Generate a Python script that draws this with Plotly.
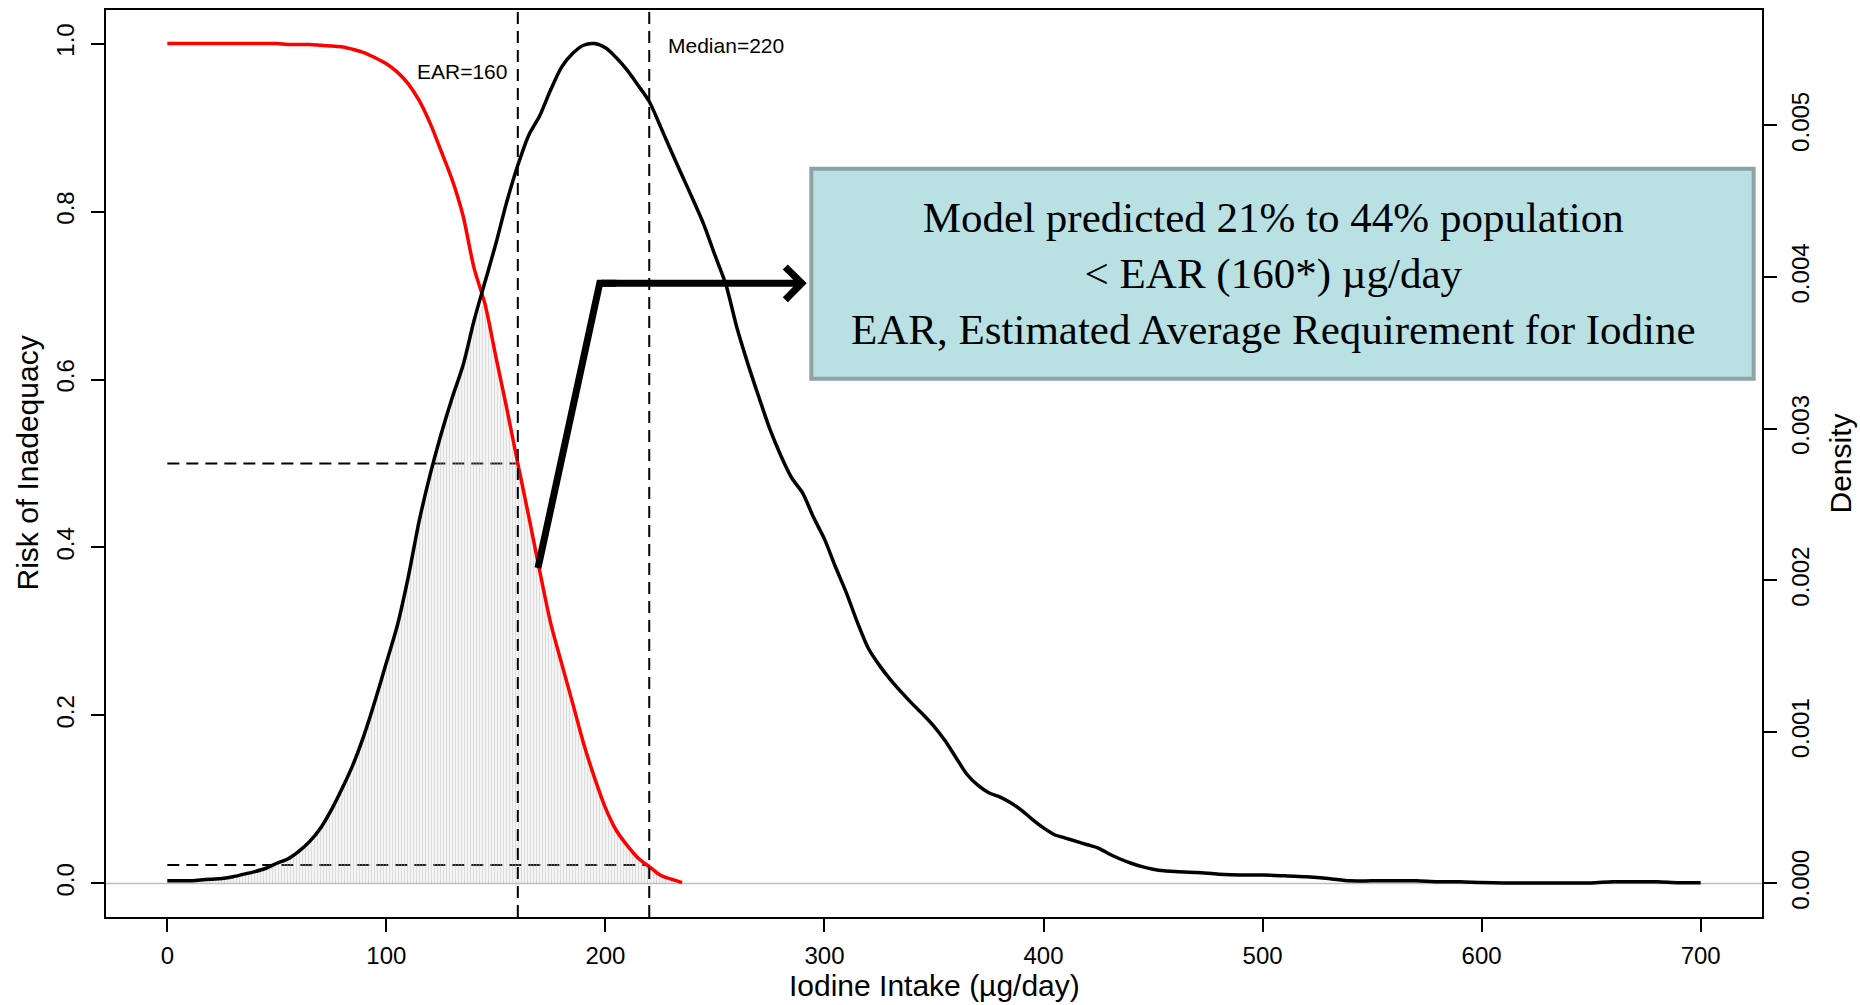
import numpy as np
import plotly.graph_objects as go

# ---------------- data ----------------
intake = list(range(0, 460, 5)) + list(range(460, 710, 10))
density_x1000 = [
    0.017, 0.017, 0.017, 0.022, 0.028, 0.033, 0.044, 0.061, 0.078, 0.100,   # 0-45
    0.133, 0.161, 0.211, 0.277, 0.366, 0.488, 0.632, 0.792, 0.986, 1.213,   # 50-95
    1.457, 1.701, 2.022, 2.393, 2.698, 2.964, 3.202, 3.418, 3.712, 3.967,   # 100-145
    4.221, 4.498, 4.737, 4.936, 5.064, 5.235, 5.385, 5.474, 5.529, 5.540,   # 150-195
    5.512, 5.446, 5.363, 5.263, 5.158, 4.997, 4.831, 4.670, 4.510, 4.343,   # 200-245
    4.144, 3.950, 3.667, 3.429, 3.210, 3.000, 2.825, 2.676, 2.576, 2.415,   # 250-295
    2.271, 2.089, 1.917, 1.723, 1.551, 1.440, 1.346, 1.263, 1.186, 1.114,   # 300-345
    1.036, 0.942, 0.831, 0.720, 0.648, 0.598, 0.571, 0.532, 0.482, 0.421,   # 350-395
    0.366, 0.321, 0.299, 0.277, 0.255, 0.233, 0.194, 0.161, 0.133, 0.111,   # 400-445
    0.094, 0.083,                                                           # 450-455
    0.078, 0.072, 0.061, 0.055, 0.055, 0.050, 0.044, 0.033, 0.017, 0.017,   # 460-550
    0.017, 0.017, 0.011, 0.011, 0.006, 0.003, 0.003, 0.003, 0.003, 0.003,   # 560-650
    0.011, 0.011, 0.011, 0.004, 0.004,                                      # 660-700
]
risk_intake = list(range(0, 240, 5))
risk = [
    1.000, 1.000, 1.000, 1.000, 1.000, 1.000, 1.000, 1.000, 1.000, 1.000,   # 0-45
    1.000, 0.999, 0.999, 0.999, 0.998, 0.997, 0.996, 0.993, 0.989, 0.983,   # 50-95
    0.976, 0.966, 0.952, 0.932, 0.905, 0.872, 0.838, 0.795, 0.733, 0.690,   # 100-145
    0.627, 0.565, 0.500, 0.437, 0.372, 0.310, 0.262, 0.215, 0.167, 0.126,   # 150-195
    0.090, 0.063, 0.045, 0.030, 0.020, 0.010, 0.005, 0.001,                 # 200-235
]
EAR = 160
MEDIAN = 220
RISK_AT_EAR = 0.5
RISK_AT_MEDIAN = 0.022

x_ticks = [0, 100, 200, 300, 400, 500, 600, 700]
risk_ticks = [0.0, 0.2, 0.4, 0.6, 0.8, 1.0]
density_ticks = [0.0, 0.001, 0.002, 0.003, 0.004, 0.005]

box_lines = ["Model predicted 21% to 44% population",
             "< EAR (160*) \u00b5g/day",
             "EAR, Estimated Average Requirement for Iodine"]

# ---------------- derived ----------------
density = np.array(density_x1000) * 1e-3
dmax = density.max()
dens_norm = dict(zip(intake, density / dmax))
shade = [min(r, dens_norm[x]) for x, r in zip(risk_intake, risk)]

SANS = "Liberation Sans, Arial, sans-serif"
SERIF = "Liberation Serif, Times New Roman, serif"
DASH = "12px,7px"

fig = go.Figure()
fig.add_trace(go.Scatter(
    x=risk_intake, y=shade, mode="lines", fill="tozeroy",
    line=dict(width=0, color="rgba(0,0,0,0)", shape="spline", smoothing=0.8),
    fillpattern=dict(shape="|", size=3, solidity=0.55, fgcolor="#BBBBBB",
                     bgcolor="rgba(255,255,255,0)"),
    hoverinfo="skip", showlegend=False, yaxis="y"))
fig.add_trace(go.Scatter(
    x=intake, y=density, mode="lines",
    line=dict(color="black", width=3.5, shape="spline", smoothing=0.8),
    showlegend=False, yaxis="y2"))
fig.add_trace(go.Scatter(
    x=risk_intake, y=risk, mode="lines",
    line=dict(color="#FF0000", width=3.5, shape="spline", smoothing=0.8),
    showlegend=False, yaxis="y"))

axis_common = dict(showgrid=False, zeroline=False, showline=True, linecolor="black",
                   linewidth=1.5, ticks="outside", ticklen=13, tickwidth=1.5,
                   tickcolor="black", tickfont=dict(family=SANS, size=24, color="black"))

fig.update_layout(
    width=1860, height=1005,
    margin=dict(l=106, r=98, t=8, b=88),
    paper_bgcolor="white", plot_bgcolor="white",
    xaxis=dict(range=[-28, 728], tickvals=x_ticks, ticklabelstandoff=3, mirror=True,
               **axis_common),
    yaxis=dict(range=[-0.04, 1.04], tickvals=risk_ticks,
               ticktext=[f"{v:.1f}" for v in risk_ticks], tickangle=-90,
               ticklabelstandoff=8, mirror=True, **axis_common),
    yaxis2=dict(range=[-0.04 * dmax, 1.04 * dmax], overlaying="y", side="right",
                tickvals=density_ticks, ticktext=[f"{v:.3f}" for v in density_ticks],
                tickangle=-90, ticklabelstandoff=3, **axis_common),
)

shapes = []
for xv in (EAR, MEDIAN):
    shapes.append(dict(type="line", xref="x", yref="y domain", x0=xv, x1=xv, y0=0, y1=1,
                       line=dict(color="black", width=2, dash=DASH)))
shapes.append(dict(type="line", xref="x", yref="y", x0=0, x1=EAR, y0=RISK_AT_EAR, y1=RISK_AT_EAR,
                   line=dict(color="black", width=2, dash=DASH), layer="below"))
shapes.append(dict(type="line", xref="x", yref="y", x0=0, x1=MEDIAN, y0=RISK_AT_MEDIAN,
                   y1=RISK_AT_MEDIAN, line=dict(color="black", width=2, dash=DASH), layer="below"))
shapes.append(dict(type="line", xref="x domain", yref="y", x0=0, x1=1, y0=0, y1=0,
                   line=dict(color="#BEBEBE", width=1.5), layer="below"))
shapes.append(dict(type="rect", xref="x", yref="y", x0=294, x1=724.2, y0=0.601, y1=0.851,
                   fillcolor="#B9E0E3", line=dict(color="#8DA3A6", width=4), layer="above"))
shapes.append(dict(type="path", xref="x", yref="y",
                   path="M 169.2,0.3755 L 197.4,0.7146 L 205,0.7146",
                   line=dict(color="black", width=7), layer="above"))
fig.update_layout(shapes=shapes)

annotations = [
    dict(x=EAR - 4, y=0.967, xref="x", yref="y", text=f"EAR={EAR}", showarrow=False,
         xanchor="right", yanchor="middle", font=dict(family=SANS, size=21, color="black")),
    dict(x=MEDIAN + 7.7, y=0.998, xref="x", yref="y", text=f"Median={MEDIAN}", showarrow=False,
         xanchor="left", yanchor="middle", font=dict(family=SANS, size=21, color="black")),
    dict(x=505, y=0.726, xref="x", yref="y", text="<br>".join(box_lines), showarrow=False,
         xanchor="center", yanchor="middle", align="center",
         font=dict(family=SERIF, size=43, color="black")),
    dict(x=291.9, y=0.7146, ax=197.4, ay=0.7146, xref="x", yref="y", axref="x", ayref="y",
         text="", showarrow=True, arrowhead=4, arrowwidth=7, arrowsize=0.9,
         arrowcolor="black", standoff=0),
    dict(x=0.5, y=-0.0759, xref="paper", yref="paper", text="Iodine Intake (\u00b5g/day)",
         showarrow=False, xanchor="center", yanchor="middle",
         font=dict(family=SANS, size=30, color="black")),
    dict(x=-0.0477, y=0.5, xref="paper", yref="paper", text="Risk of Inadequacy",
         showarrow=False, textangle=-90, xanchor="center", yanchor="middle",
         font=dict(family=SANS, size=30, color="black")),
    dict(x=1.0477, y=0.5, xref="paper", yref="paper", text="Density",
         showarrow=False, textangle=-90, xanchor="center", yanchor="middle",
         font=dict(family=SANS, size=30, color="black")),
]
fig.update_layout(annotations=annotations)

fig.write_html("out.html")
